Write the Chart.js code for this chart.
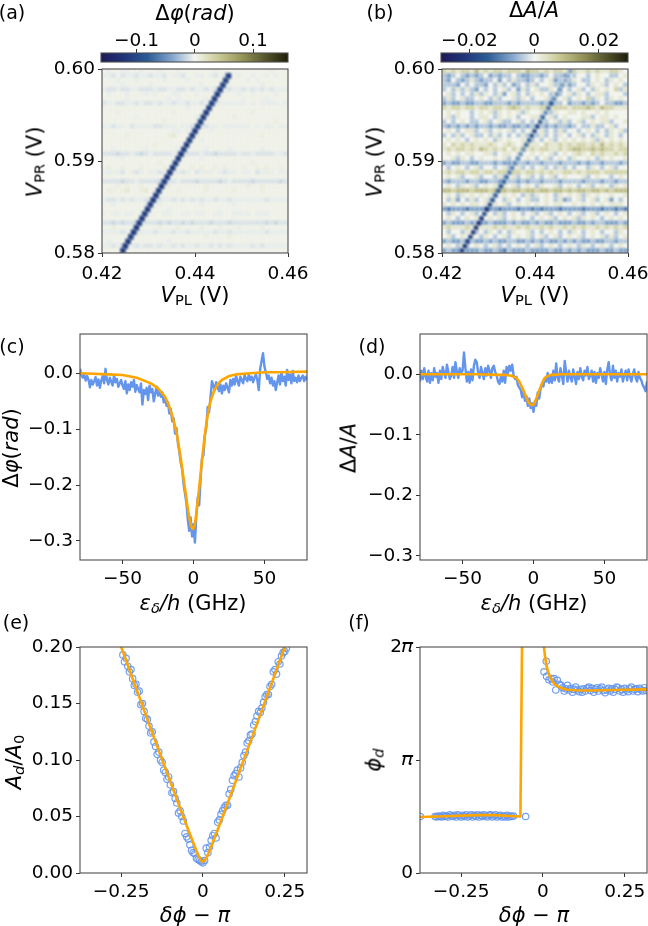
<!DOCTYPE html>
<html><head><meta charset="utf-8">
<script src="https://cdn.jsdelivr.net/npm/chart.js@4"></script>
<style>
html,body{margin:0;padding:0;background:#fff;width:648px;height:926px;overflow:hidden}
#root{position:relative;width:648px;height:926px;overflow:hidden;filter:blur(0.35px)}
canvas{position:absolute}
.lb{position:absolute;font-family:"DejaVu Sans";color:#000;white-space:nowrap;line-height:1;transform:translate(-50%,-50%)}
.lb.rot{transform:translate(-50%,-50%) rotate(-90deg)}
.lb sub{font-size:70%;vertical-align:-0.22em;line-height:0}
</style></head><body><div id="root"></div>
<script>
// ---------- heat map (a): phase shift, background rows top to bottom, one digit per cell
const phiRows = [
"5455445545 5545554555 5555455555 5555554555","4435344344 3443544355 4454354454 5545545455",
"5554555455 5554555545 5555555555 5454555555","5555455555 4555555555 5455554555 5555455555",
"4334334433 3433443343 4434334344 3434343444","5455545554 5455544555 4555545554 5545555455",
"5555545555 5555454555 5545555555 4555545555","3443344343 3434434434 4344344444 4545444454",
"5555555555 5555555545 5555555555 5555555555","5556555555 5555565555 5555555555 5565555555",
"5555555455 5555555555 4555555565 5555555555","5555555555 5556555555 5555555555 5555555655",
"4434453444 4334445443 4334454444 4454544544","5555555555 5555544544 5554555555 5555555555",
"5555565555 5555675555 6555555555 5555655555","5555555555 5555555555 5455555555 5555555555",
"5555555555 5655555555 5555555555 5555555555","5545555554 5555554555 5545555455 5555455555",
"3332334323 4333343333 3433233334 3343333443","5555455555 5555555555 5455555555 5555555555",
"5555555555 5565555555 5555555555 5565555555","5655655565 5556565556 5655656555 6556565565",
"4464356345 4434364345 3464543445 4453464544","5555555555 5555555555 5555555555 5555555555",
"3333233433 3323334333 2333323433 3323333323","5556565565 5555655555 5565555555 5655655555",
"5665675567 5655556555 5565555565 5555655555","5555555555 5555555555 5555555555 5555555555",
"4334343443 3334434343 4344344344 4444434444","5545555554 5545555555 5455555545 5555555555",
"5555555555 5555455555 5555555555 5555555555","4544544544 4554455445 4455445544 4454445555",
"5555555555 5555555555 5555555555 5555555555","3323233233 3323233232 3332333233 3333323233",
"5565555655 5565556555 5655565556 5555655555","4444344344 4344434434 4444344344 4444434444",
"5555555555 5555555555 5565555655 5555555555","5455555555 5555455555 5555555555 5555555555",
"4434344343 3434434344 3443434344 4434344444","5555555555 5555555555 5555555555 5555555555"];
const phiLevels = [-0.035,-0.024,-0.015,-0.009,-0.004,0.003,0.008,0.014];
const phiRidgeX = [0.4245,0.4250,0.4256,0.4262,0.4268,0.4274,0.4280,0.4286,0.4292,0.4298,0.4304,0.4310,0.4316,0.4322,0.4328,0.4334,0.4340,0.4346,0.4352,0.4358,0.4364,0.4370,0.4376,0.4382,0.4388,0.4394,0.4400,0.4406,0.4412,0.4418,0.4424,0.4430,0.4436,0.4442,0.4448,0.4454,0.4460,0.4466,0.4472];
const phiRidgeV = [-0.11,-0.115,-0.115,-0.11,-0.115,-0.115,-0.11,-0.115,-0.11,-0.115,-0.11,-0.115,-0.115,-0.11,-0.115,-0.11,-0.115,-0.115,-0.115,-0.11,-0.11,-0.115,-0.11,-0.115,-0.11,-0.11,-0.115,-0.11,-0.11,-0.11,-0.115,-0.11,-0.105,-0.11,-0.11,-0.11,-0.105,-0.105,-0.11];

// ---------- heat map (b): amplitude, background rows top to bottom
const ampRows = [
"6565665756 5665666576 6565665665 5656556654","3234323234 2323343223 3234332434 4345443345",
"3243235323 3424353323 4345234354 3345435454","3332434332 4353423435 3445335234 4354534543",
"3435353243 4345342534 5335434345 3435454635","4534343535 4352453435 4543534535 4345534443",
"3534533454 3534453543 4453545345 4635435454","2322322332 2333232333 3232334233 2323433223",
"6566566566 5665676565 5665666566 6765766555","4545443454 5354545354 4543544554 5445454444",
"4535443455 4354543445 5345345444 5534554544","3434543345 3453345343 4534535345 3454553445",
"3232323233 2322322323 3323233234 3353345344","4543455345 3454534345 4534353443 4543435453",
"3435345334 3534343534 3534354345 3435435434","4545434545 4354544543 4345345454 5453545454",
"5465656555 6545654565 5465565656 6565756565","5656656576 5656465656 5665565677 6676766566",
"4545455445 5345545445 4545345456 5465655656","4453543454 4545343454 3453454354 4543545445",
"2322332233 3232233323 3233323332 3233233323","4345434534 4345345343 4534353434 4354345344",
"5656656656 6566566566 5656556656 5666566666","4545344534 4353453453 4345345444 5345443454",
"3233323322 3323332323 3233323333 2333233233","4543545345 4535453454 3544534543 4534543545",
"7767776777 6777677677 6776776767 7677676777","4543545454 5345454353 5454354545 3545445445",
"4352435345 3443543453 3454352345 3453452434","5454545545 4545345454 5454554454 5454545554",
"2122212221 2212221221 2122212222 1222122121","4354345345 4353454345 3453454345 3453454345",
"4543454534 5453454543 4545345453 5454345454","2322232322 3222323223 2322322232 2323322232",
"5655565655 5656556565 5656556565 6556565656","4344354343 5434354453 4345434354 3454344354",
"4534545435 4345345453 4534534545 3454535345","2322323223 2322332232 3232232323 2232233233",
"4543534543 4534345434 5345434543 5434543454","2322322232 2321322232 2223223232 3222322322"];
const ampLevels = [-0.015,-0.0115,-0.0075,-0.004,0,0.0025,0.006,0.0095];
const ampRidgeX = [0.4243,0.4249,0.4255,0.4261,0.4267,0.4273,0.4279,0.4285,0.4291,0.4297,0.4303,0.4309,0.4315,0.4321,0.4327,0.4333,0.4339,0.4345,0.4351,0.4357,0.4363,0.4369,0.4375,0.4381,0.4387,0.4393,0.4399,0.4405,0.4411,0.4417,0.4423,0.4429,0.4435,0.4441,0.4447,0.4453,0.4459,0.4465,0.4471,0.4476];
const ampRidgeV = [-0.021,-0.022,-0.02,-0.019,-0.022,-0.021,-0.024,-0.022,-0.017,-0.021,-0.018,-0.016,-0.014,-0.014,-0.016,-0.014,-0.013,-0.012,-0.011,-0.01,-0.009,-0.009,-0.009,-0.012,-0.014,-0.017,-0.017,-0.019,-0.014,-0.013,-0.01,-0.012,-0.015,-0.01,-0.009,-0.008,-0.008,-0.007,-0.007,-0.007];

// ---------- sweeps (c), (d)
const detuning = [-80,-79,-78,-77,-76,-75,-74,-73,-72,-71,-70,-69,-68,-67,-66,-65,-64,-63,-62,-61,-60,-59,-58,-57,-56,-55,-54,-53,-52,-51,-50,-49,-48,-47,-46,-45,-44,-43,-42,-41,-40,-39,-38,-37,-36,-35,-34,-33,-32,-31,-30,-29,-28,-27,-26,-25,-24,-23,-22,-21,-20,-19,-18,-17,-16,-15,-14,-13,-12,-11,-10,-9,-8,-7,-6,-5,-4,-3,-2,-1,0,1,2,3,4,5,6,7,8,9,10,11,12,13,14,15,16,17,18,19,20,21,22,23,24,25,26,27,28,29,30,31,32,33,34,35,36,37,38,39,40,41,42,43,44,45,46,47,48,49,50,51,52,53,54,55,56,57,58,59,60,61,62,63,64,65,66,67,68,69,70,71,72,73,74,75,76,77,78,79,80];
const phaseSweep = [0.008,-0.003,-0.008,-0.002,-0.013,-0.005,-0.011,-0.025,-0.012,-0.020,-0.014,-0.007,-0.022,-0.011,-0.026,-0.013,-0.005,-0.018,0.008,-0.012,-0.020,-0.008,-0.015,-0.022,-0.003,-0.016,-0.010,-0.024,-0.018,-0.012,-0.022,-0.028,-0.014,-0.036,-0.020,-0.030,-0.016,-0.024,-0.012,-0.033,-0.021,-0.028,-0.034,-0.018,-0.056,-0.030,-0.037,-0.026,-0.048,-0.022,-0.034,-0.028,-0.050,-0.036,-0.024,-0.040,-0.030,-0.042,-0.034,-0.052,-0.046,-0.058,-0.052,-0.072,-0.064,-0.086,-0.080,-0.108,-0.098,-0.125,-0.140,-0.160,-0.172,-0.198,-0.215,-0.232,-0.262,-0.282,-0.258,-0.292,-0.270,-0.303,-0.255,-0.222,-0.236,-0.190,-0.152,-0.146,-0.112,-0.098,-0.060,-0.070,-0.042,-0.014,-0.022,-0.030,-0.016,-0.024,-0.032,-0.020,-0.036,-0.022,-0.030,-0.018,-0.026,-0.034,-0.012,-0.022,-0.010,-0.020,-0.004,-0.014,-0.022,-0.006,-0.012,-0.018,-0.003,-0.010,-0.014,-0.002,-0.012,-0.006,-0.016,-0.008,-0.002,-0.012,-0.030,0.008,0.022,0.036,0.012,0.002,-0.010,-0.004,-0.018,-0.008,-0.022,-0.014,-0.030,-0.016,-0.004,-0.020,0.002,-0.014,-0.006,-0.022,0.006,-0.012,-0.002,-0.018,0.004,-0.014,-0.008,-0.016,-0.004,-0.014,-0.008,-0.004,-0.014,-0.006,-0.012,-0.004,-0.012];
const phaseFitX = [-80,-60,-50,-40,-30,-25,-20,-17,-15,-13,-12,-11,-10,-9,-8,-7,-6,-5,-4,-3,-2,-1,0,1,2,3,4,5,6,7,8,9,10,11,12,14,16,18,20,25,30,40,50,60,80];
const phaseFitY = [0,-0.002,-0.003,-0.008,-0.018,-0.027,-0.042,-0.060,-0.076,-0.095,-0.106,-0.120,-0.136,-0.152,-0.170,-0.188,-0.206,-0.224,-0.242,-0.258,-0.270,-0.278,-0.278,-0.270,-0.250,-0.228,-0.205,-0.180,-0.155,-0.132,-0.110,-0.091,-0.075,-0.061,-0.050,-0.035,-0.024,-0.017,-0.012,-0.005,-0.002,0,0.002,0.002,0.003];
const ampSweep = [-0.012,0.006,-0.008,0.010,-0.004,-0.012,0.006,-0.014,0.002,-0.010,0.010,-0.004,0.002,-0.014,0.006,-0.008,0.012,0.002,-0.006,0.016,0.004,-0.008,-0.002,0.012,-0.006,0.020,0.004,-0.006,0.010,0.002,0.006,0.036,0.010,-0.012,0.004,-0.014,0.008,-0.010,0.014,0.024,0.020,0.002,-0.006,0.012,0.002,-0.008,0.010,-0.002,0.014,0.006,-0.006,0.010,0.014,0.004,-0.002,-0.012,-0.016,-0.004,-0.012,0.006,-0.014,0.012,0.002,0.014,0.006,0.016,-0.002,-0.008,-0.004,-0.018,-0.022,-0.026,-0.038,-0.028,-0.044,-0.036,-0.052,-0.040,-0.056,-0.048,-0.062,-0.044,-0.052,-0.030,-0.040,-0.024,-0.016,-0.020,-0.006,-0.012,0.002,-0.014,-0.004,-0.014,0.006,-0.010,0.018,-0.006,-0.012,0.010,-0.002,-0.016,0.022,0.004,-0.012,0.006,-0.006,-0.012,0.008,-0.004,-0.016,0.004,-0.008,0.010,-0.004,-0.010,0.006,-0.002,0.012,-0.008,-0.002,0.006,-0.012,0.004,-0.014,0.002,-0.006,0.010,0.000,-0.012,0.004,-0.016,0.008,0.020,-0.002,-0.010,0.014,-0.006,0.006,-0.012,0.002,-0.004,0.008,-0.012,-0.002,0.006,-0.010,0.008,-0.004,-0.012,0.000,0.008,-0.006,-0.012,0.004,-0.006,-0.010,-0.018,-0.022,-0.028,-0.012];
const ampFitX = [-80,-40,-25,-20,-17,-15,-13,-12,-11,-10,-9,-8,-7,-6,-5,-4,-3,-2,-1,0,1,2,3,4,5,6,7,8,9,10,12,14,20,40,80];
const ampFitY = [0,0,-0.001,-0.001,-0.002,-0.003,-0.005,-0.006,-0.009,-0.012,-0.017,-0.022,-0.027,-0.033,-0.039,-0.044,-0.048,-0.050,-0.051,-0.050,-0.046,-0.040,-0.034,-0.027,-0.021,-0.015,-0.010,-0.006,-0.004,-0.003,-0.001,-0.001,0,0,0];

// ---------- (e)
const deltaE = [-0.245,-0.24,-0.235,-0.23,-0.225,-0.22,-0.215,-0.21,-0.205,-0.2,-0.195,-0.19,-0.185,-0.18,-0.175,-0.17,-0.165,-0.16,-0.155,-0.15,-0.145,-0.14,-0.135,-0.13,-0.125,-0.12,-0.115,-0.11,-0.105,-0.1,-0.095,-0.09,-0.085,-0.08,-0.075,-0.07,-0.065,-0.06,-0.055,-0.05,-0.045,-0.04,-0.035,-0.03,-0.025,-0.02,-0.015,-0.01,-0.005,0,0.005,0.01,0.015,0.02,0.025,0.03,0.035,0.04,0.045,0.05,0.055,0.06,0.065,0.07,0.075,0.08,0.085,0.09,0.095,0.1,0.105,0.11,0.115,0.12,0.125,0.13,0.135,0.14,0.145,0.15,0.155,0.16,0.165,0.17,0.175,0.18,0.185,0.19,0.195,0.2,0.205,0.21,0.215,0.22,0.225,0.23,0.235,0.24,0.245,0.25,0.255];
const ampRatio = [0.193,0.187,0.190,0.183,0.178,0.180,0.172,0.166,0.167,0.160,0.161,0.149,0.150,0.143,0.137,0.136,0.130,0.124,0.125,0.116,0.112,0.105,0.107,0.100,0.098,0.091,0.089,0.083,0.085,0.078,0.071,0.072,0.066,0.062,0.053,0.055,0.050,0.046,0.035,0.032,0.030,0.025,0.020,0.018,0.017,0.013,0.012,0.011,0.010,0.009,0.011,0.022,0.018,0.023,0.029,0.033,0.035,0.031,0.045,0.047,0.052,0.055,0.058,0.060,0.060,0.070,0.074,0.082,0.086,0.088,0.091,0.085,0.093,0.098,0.104,0.107,0.115,0.117,0.122,0.123,0.131,0.134,0.139,0.143,0.142,0.146,0.151,0.156,0.158,0.158,0.165,0.167,0.178,0.180,0.176,0.187,0.185,0.192,0.195,0.196,0.199];
const ampFitDeltaX = [-0.255,-0.2,-0.15,-0.1,-0.05,-0.03,-0.015,-0.005,0,0.005,0.015,0.03,0.05,0.1,0.15,0.2,0.255];
const ampFitRatio = [0.204,0.160,0.120,0.081,0.042,0.027,0.016,0.011,0.010,0.011,0.016,0.027,0.042,0.081,0.120,0.160,0.204];

// ---------- (f), phase in units of pi
const deltaF = [-0.375,-0.33,-0.325,-0.32,-0.315,-0.31,-0.305,-0.3,-0.295,-0.29,-0.285,-0.28,-0.275,-0.27,-0.265,-0.26,-0.255,-0.25,-0.245,-0.24,-0.235,-0.23,-0.225,-0.22,-0.215,-0.21,-0.205,-0.2,-0.195,-0.19,-0.185,-0.18,-0.175,-0.17,-0.165,-0.16,-0.155,-0.15,-0.145,-0.14,-0.135,-0.13,-0.125,-0.12,-0.115,-0.11,-0.105,-0.1,-0.095,-0.09,-0.053,0.003,0.01,0.011,0.018,0.025,0.03,0.034,0.039,0.044,0.05,0.055,0.06,0.065,0.07,0.075,0.08,0.085,0.09,0.095,0.1,0.105,0.11,0.115,0.12,0.125,0.13,0.135,0.14,0.145,0.15,0.155,0.16,0.165,0.17,0.175,0.18,0.185,0.19,0.195,0.2,0.205,0.21,0.215,0.22,0.225,0.23,0.235,0.24,0.245,0.25,0.255,0.26,0.265,0.27,0.275,0.28,0.285,0.29,0.295,0.3,0.305,0.31,0.315];
const phaseD = [0.5,0.5,0.495,0.505,0.5,0.495,0.51,0.5,0.505,0.495,0.515,0.505,0.5,0.51,0.495,0.515,0.505,0.495,0.51,0.5,0.515,0.495,0.505,0.515,0.495,0.51,0.5,0.515,0.495,0.51,0.5,0.515,0.505,0.495,0.51,0.515,0.495,0.505,0.515,0.495,0.505,0.51,0.495,0.505,0.495,0.51,0.495,0.505,0.5,0.505,0.5,1.78,1.873,1.74,1.71,1.72,1.69,1.72,1.62,1.705,1.67,1.66,1.64,1.61,1.63,1.66,1.62,1.635,1.60,1.625,1.645,1.62,1.605,1.625,1.6,1.63,1.61,1.635,1.645,1.615,1.635,1.6,1.625,1.64,1.61,1.63,1.645,1.615,1.595,1.62,1.635,1.61,1.63,1.6,1.625,1.645,1.64,1.61,1.625,1.6,1.635,1.62,1.605,1.63,1.645,1.61,1.625,1.63,1.605,1.635,1.62,1.61,1.64,1.615];
const phaseFitDeltaX = [-0.376,-0.3,-0.2,-0.15,-0.1,-0.069,-0.0635,0.002,0.003,0.007,0.011,0.017,0.023,0.033,0.044,0.058,0.074,0.1,0.15,0.22,0.318];
const phaseFitD = [0.495,0.502,0.512,0.512,0.505,0.5,2.2,2.2,2.0,1.9,1.83,1.77,1.726,1.68,1.652,1.635,1.622,1.617,1.615,1.62,1.625];

// ---------- ticks
const ticksVL = [0.42,0.44,0.46], ticksVLlab = ["0.42","0.44","0.46"];
const ticksVR = [0.58,0.59,0.60], ticksVRlab = ["0.58","0.59","0.60"];
const ticksBarA = [-0.1,0,0.1], ticksBarAlab = ["\u22120.1","0","0.1"];
const ticksBarB = [-0.02,0,0.02], ticksBarBlab = ["\u22120.02","0","0.02"];
const ticksEps = [-50,0,50], ticksEpsLab = ["\u221250","0","50"];
const ticksSweep = [0,-0.1,-0.2,-0.3], ticksSweepLab = ["0.0","\u22120.1","\u22120.2","\u22120.3"];
const ticksDelta = [-0.25,0,0.25], ticksDeltaLab = ["\u22120.25","0","0.25"];
const ticksRatio = [0,0.05,0.1,0.15,0.2], ticksRatioLab = ["0.00","0.05","0.10","0.15","0.20"];
const ticksPhi = [0,1,2], ticksPhiLab = ["0","\ud835\udf0b","2\ud835\udf0b"];

// ---------- palette
const BLUE="#6495ed", ORANGE="#ffa500", SPINE="#4d4d4d";
const cmapStops=[[0,[30,26,88]],[0.12,[32,52,120]],[0.25,[44,92,150]],[0.38,[130,165,205]],[0.5,[243,245,240]],[0.62,[205,205,155]],[0.75,[150,150,90]],[0.88,[85,85,45]],[1,[28,27,8]]];
function cmap(t){t=Math.max(0,Math.min(1,t));
  for(let i=1;i<cmapStops.length;i++){const a=cmapStops[i-1],b=cmapStops[i];
    if(t<=b[0]){const f=(t-a[0])/(b[0]-a[0]);return `rgb(${a[1].map((c,k)=>Math.round(c+(b[1][k]-c)*f)).join(",")})`;}}
  return "rgb(28,27,8)";}

// ---------- helpers
const root=document.getElementById("root");
const FONT="DejaVu Sans", TICK=18.5;
const frame={id:"frame",afterDraw(c){const a=c.chartArea,x=c.ctx;x.save();x.strokeStyle=SPINE;x.lineWidth=1.1;x.strokeRect(a.left,a.top,a.right-a.left,a.bottom-a.top);x.restore();}};
const soft={id:"soft",beforeDatasetsDraw(c){const a=c.chartArea,x=c.ctx;x.save();x.fillStyle="#f0f1ea";x.fillRect(a.left,a.top,a.right-a.left,a.bottom-a.top);x.filter="blur(0.9px)";},afterDatasetsDraw(c){c.ctx.restore();}};
function axis(type,pos,min,max,vals,labs,pad){return {type:type,position:pos,min:min,max:max,
  grid:{drawOnChartArea:false,drawTicks:true,tickLength:4,tickColor:"#333",tickWidth:1},border:{display:false},
  afterBuildTicks:s=>{s.ticks=vals.map(v=>({value:v}));},
  ticks:{autoSkip:false,maxRotation:0,color:"#000",padding:pad===undefined?3:pad,font:{family:FONT,size:TICK},callback:(v,i)=>labs[i]}};}
const noPad=s=>{s.paddingLeft=s.paddingRight=s.paddingTop=s.paddingBottom=0;};
function panel(r,datasets,xa,ya,plugins){
  const mL=78,mT=10,mR=32,mB=46;
  const cv=document.createElement("canvas");
  const W=r[2]-r[0]+mL+mR,H=r[3]-r[1]+mT+mB;
  cv.width=W;cv.height=H;cv.style.cssText=`left:${r[0]-mL}px;top:${r[1]-mT}px;width:${W}px;height:${H}px`;
  root.appendChild(cv);
  xa.afterFit=s=>{s.height=mB;noPad(s);};ya.afterFit=s=>{s.width=mL;noPad(s);};
  return new Chart(cv,{type:"scatter",data:{datasets:datasets},plugins:[frame].concat(plugins||[]),options:{responsive:false,animation:false,devicePixelRatio:1,
    layout:{padding:{top:mT,right:mR,left:0,bottom:0}},
    plugins:{legend:{display:false},tooltip:{enabled:false}},scales:{x:xa,y:ya}}});
}
function label(html,x,y,size,rot){const d=document.createElement("div");d.className="lb"+(rot?" rot":"");d.innerHTML=html;d.style.left=x+"px";d.style.top=y+"px";d.style.fontSize=size+"px";root.appendChild(d);}
const pairs=(xs,ys)=>xs.map((x,i)=>({x:x,y:ys[i]}));
function lineDs(xs,ys,color,w){return {data:pairs(xs,ys),showLine:true,borderColor:color,borderWidth:w,pointRadius:0,tension:0,borderJoinStyle:"round"};}
function heatDs(rows,levels,vmax){const data=[];
  rows.forEach((row,ri)=>{row.split(" ").join("").split("").forEach((ch,ci)=>{
    data.push({x:0.42+0.001*(ci+0.5),y:0.6-0.0005*(ri+0.5),v:levels[+ch]});});});
  return {data:data,pointStyle:"rect",pointRadius:3.42,pointBorderWidth:0,borderWidth:0,
    backgroundColor:c=>cmap(0.5+c.raw.v/(2*vmax))};}
function ridgeDs(xs,vs,vmax,rad){const data=xs.map((x,i)=>({x:x,y:0.58+0.0005*(i+0.5),v:vs[i]}));
  return {data:data,pointStyle:"rect",pointRadius:rad,pointBorderWidth:0,borderWidth:0,backgroundColor:c=>cmap(0.5+c.raw.v/(2*vmax))};}
function colorbar(r,vmin,vmax,vals,labs){
  const grad={id:"grad",beforeDatasetsDraw(c){const a=c.chartArea,x=c.ctx,g=x.createLinearGradient(a.left,0,a.right,0);
    cmapStops.forEach(s=>g.addColorStop(s[0],`rgb(${s[1].join(",")})`));x.save();x.fillStyle=g;x.fillRect(a.left,a.top,a.right-a.left,a.bottom-a.top);x.restore();}};
  const mT=40,mB=4,mX=40;const cv=document.createElement("canvas");
  const W=r[2]-r[0]+2*mX,H=r[3]-r[1]+mT+mB;cv.width=W;cv.height=H;
  cv.style.cssText=`left:${r[0]-mX}px;top:${r[1]-mT}px;width:${W}px;height:${H}px`;root.appendChild(cv);
  const xa=axis("linear","top",vmin,vmax,vals,labs,-3);
  xa.afterFit=s=>{s.height=mT;noPad(s);};
  new Chart(cv,{type:"scatter",data:{datasets:[{data:[]}]},plugins:[frame,grad],options:{responsive:false,animation:false,devicePixelRatio:1,
    layout:{padding:{left:mX,right:mX,top:0,bottom:mB}},
    plugins:{legend:{display:false},tooltip:{enabled:false}},
    scales:{x:xa,y:{display:false,min:0,max:1}}}});
}

// ---------- panels
panel([102,69,288,253],[ridgeDs(phiRidgeX,phiRidgeV,0.161,3.9),heatDs(phiRows,phiLevels,0.161)],
  axis("linear","bottom",0.42,0.46,ticksVL,ticksVLlab,6),axis("linear","left",0.58,0.60,ticksVR,ticksVRlab),[soft]);
panel([442,69,628,253],[ridgeDs(ampRidgeX,ampRidgeV,0.029,3.0),heatDs(ampRows,ampLevels,0.029)],
  axis("linear","bottom",0.42,0.46,ticksVL,ticksVLlab,6),axis("linear","left",0.58,0.60,ticksVR,ticksVRlab),[soft]);
colorbar([101,53,288,62],-0.161,0.16,ticksBarA,ticksBarAlab);
colorbar([441,53,628,62],-0.0288,0.029,ticksBarB,ticksBarBlab);
panel([80,334,307,560],[lineDs(phaseFitX,phaseFitY,ORANGE,2.6),lineDs(detuning,phaseSweep,BLUE,2.4)],
  axis("linear","bottom",-80,80,ticksEps,ticksEpsLab,4),axis("linear","left",-0.334,0.0703,ticksSweep,ticksSweepLab));
panel([420,334,647,560],[lineDs(ampFitX,ampFitY,ORANGE,2.6),lineDs(detuning,ampSweep,BLUE,2.4)],
  axis("linear","bottom",-80,80,ticksEps,ticksEpsLab,4),axis("linear","left",-0.3071,0.0666,ticksSweep,ticksSweepLab));
const circ=(xs,ys)=>({data:pairs(xs,ys),pointStyle:"circle",pointRadius:3.2,pointBorderWidth:1.2,pointBorderColor:"rgba(100,149,237,0.9)",pointBackgroundColor:"rgba(0,0,0,0)"});
panel([80,647,307,873],[lineDs(ampFitDeltaX,ampFitRatio,ORANGE,2.6),circ(deltaE,ampRatio)],
  axis("linear","bottom",-0.376,0.318,ticksDelta,ticksDeltaLab,4),axis("linear","left",0,0.2,ticksRatio,ticksRatioLab));
panel([420,647,647,873],[lineDs(phaseFitDeltaX,phaseFitD,ORANGE,2.6),circ(deltaF,phaseD)],
  axis("linear","bottom",-0.376,0.318,ticksDelta,ticksDeltaLab,4),axis("linear","left",0,2,ticksPhi,ticksPhiLab));

// ---------- text
const LS=21, PL=19;
label("(a)",12,12,PL);label("(b)",380,12,PL);label("(c)",12,346,PL);label("(d)",372,346,PL);label("(e)",16,622,PL);label("(f)",359,622,PL);
label("\u0394<i>\u03c6</i>(<i>rad</i>)",195,13,LS);label("\u0394<i>A</i>/<i>A</i>",534,10,LS);
const VPL="<i>V</i><sub>PL</sub> (V)",VPR="<i>V</i><sub>PR</sub> (V)";
label(VPL,195,295,LS);label(VPL,535,295,LS);label(VPR,35,162,LS,true);label(VPR,375,162,LS,true);
const EPS="<i>\u03b5<sub>\u03b4</sub>/h</i> (GHz)",DP="<i>\u03b4\u03d5</i> \u2212 <i>\u03c0</i>";
label(EPS,193,603,LS);label(EPS,534,603,LS);label(DP,195,915,LS);label(DP,534,915,LS);
label("\u0394<i>\u03c6</i>(<i>rad</i>)",11,448,LS,true);label("\u0394<i>A</i>/<i>A</i>",349,448,LS,true);
label("<i>A<sub>d</sub></i>/<i>A</i><sub>0</sub>",14,762,LS,true);label("<i>\u03d5<sub>d</sub></i>",374,760,LS,true);
</script></body></html>
